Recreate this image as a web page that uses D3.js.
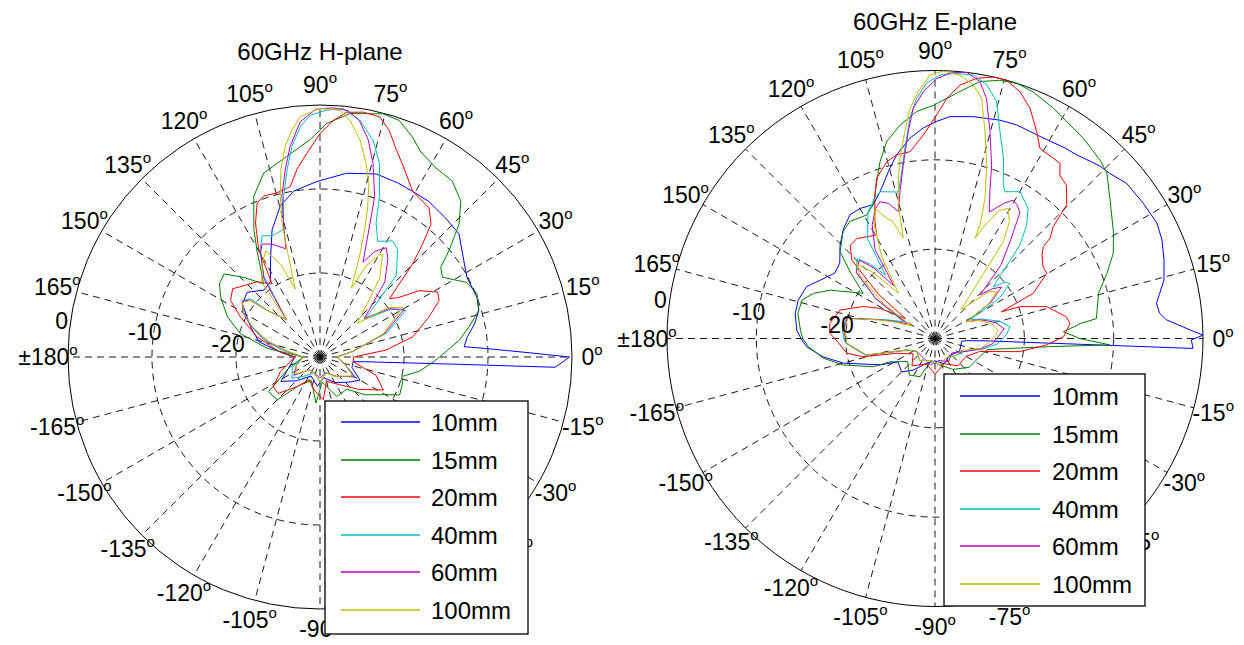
<!DOCTYPE html>
<html>
<head>
<meta charset="utf-8">
<script src="https://cdn.jsdelivr.net/npm/d3@7"></script>
<style>
  body { margin: 0; background: #fff; }
  text { font-family: "Liberation Sans", Arial, sans-serif; fill: #000; }
</style>
</head>
<body>
<svg id="chart" width="1244" height="645"></svg>
<script>
// series names and MATLAB-style line colours
var seriesNames = ["10mm", "15mm", "20mm", "40mm", "60mm", "100mm"];
var seriesColors = ["#0000ff", "#008000", "#ff0000", "#00bfbf", "#bf00bf", "#bfbf00"];

// spokes every 15 degrees, 0 on the right, 90 on top
var angleTicks = [0, 15, 30, 45, 60, 75, 90, 105, 120, 135, 150, 165, 180, 195, 210, 225, 240, 255, 270, 285, 300, 315, 330, 345];
var angleLabels = ["0", "15", "30", "45", "60", "75", "90", "105", "120", "135", "150", "165", "\u00b1180",
  "-165", "-150", "-135", "-120", "-105", "-90", "-75", "-60", "-45", "-30", "-15"];
var ringTicks = [0, -10, -20];

// normalised pattern, [angle in degrees, dB]
var hPlane10 = [[-180, -27], [-160, -26], [-148, -24.5], [-135, -26], [-115, -27.5], [-95, -26.5], [-80, -27.5], [-60, -26.5],
  [-42, -25.5], [-30, -24.5], [-18, -26], [-8, -26], [-6, -24.6], [-5, -23], [-4, -20.2], [-3, -13.3], [-2.5, -2], [-1.2, -1.1],
  [0, -0.3], [1, -4.5], [2, -7.8], [3, -10.4], [4.1, -12.8], [7.8, -12.3], [12, -11.2], [16.4, -10.3], [20.9, -10], [28.4, -10.1],
  [33.8, -9.4], [41.5, -7.9], [47.9, -7.7], [55, -7.4], [60.8, -7.4], [66, -7.3], [72.9, -7.2], [81.8, -7.9], [91, -9.1], [99, -10],
  [104.7, -11.4], [110.6, -13.8], [116, -16.6], [123.6, -19.3], [130, -19.6], [138.4, -18.4], [145.6, -18.8], [156.6, -21],
  [166, -22.5], [174, -25.5], [180, -27]];
var hPlane15 = [[-180, -28], [-160, -26], [-146, -22.6], [-135, -22.8], [-125, -26], [-110, -27], [-95, -24.5], [-85, -27],
  [-67, -24.9], [-50, -25], [-40, -23], [-30.3, -21.1], [-25.4, -19.5], [-17.5, -19.7], [-13.5, -20], [-8, -18], [-1.5, -16.2],
  [6.9, -13.3], [11.4, -11.9], [16.4, -10.3], [21.9, -9.85], [26.9, -10.4], [33.1, -12.6], [36.6, -12.1], [39.5, -10.1],
  [43.7, -7.1], [47.9, -5], [53, -3.8], [58.5, -3.6], [63.8, -2.8], [67.2, -1.6], [71.5, -0.3], [75.5, -0.1], [83, -0.8],
  [88.4, -2.2], [92.6, -4.1], [99.4, -5.8], [107, -7.1], [112.4, -9.3], [117.4, -12.9], [121, -15.5], [124, -17.4], [127.7, -19],
  [133.7, -16.9], [139.1, -14.9], [144, -15.2], [148.9, -16.2], [156.6, -18], [163.5, -20.1], [170.7, -23.6], [180, -28]];
var hPlane20 = [[-180, -27], [-160, -25], [-147.5, -23.4], [-139, -23.4], [-128, -25.5], [-115, -27], [-100, -26], [-85.6, -24.9],
  [-75, -27], [-55, -26], [-40, -24], [-27.5, -21.5], [-18, -23], [-8, -26], [0, -26], [6, -22.1], [12.3, -18.7], [20.1, -16.2],
  [25.4, -14.3], [28.9, -14], [33.8, -15.8], [37, -18.2], [40, -19.2], [45.1, -14.4], [47.7, -11.9], [50.1, -9.4], [53.8, -8],
  [60.8, -7.4], [66.7, -5.1], [69.8, -3.7], [73, -1.8], [76, -0.55], [80, -0.4], [83.8, -0.7], [86.8, -1.8], [90, -3.4],
  [93.7, -5.7], [97, -7.5], [99.9, -9.4], [104.7, -9.8], [109.3, -9.7], [112.2, -10.2], [115.7, -12.3], [119.6, -15.2],
  [123.2, -19.6], [130, -18.3], [136.8, -17.6], [142, -16.8], [147.7, -17.4], [153.3, -19.4], [162.2, -22.1], [172, -25], [180, -27]];
var hPlane40 = [[-180, -28], [-160, -26.5], [-143, -25.8], [-130, -27], [-110, -28], [-90, -27], [-70, -28], [-50, -27],
  [-29.4, -25.2], [-15, -27], [0, -28], [10, -26], [20, -21.5], [28.5, -18.4], [34, -19.8], [40, -23], [46.9, -16.7],
  [54.2, -14.2], [57.9, -13.7], [63.5, -14.6], [67.3, -12.7], [69.7, -9.6], [72.9, -5.9], [76.3, -3.4], [80.5, -1.4],
  [84.7, -0.3], [88.5, -0.6], [92.3, -1.2], [94.9, -2.5], [97.6, -4.7], [100, -7.4], [102.8, -10.4], [105.9, -14.2],
  [111.6, -14.5], [115.5, -14], [118.9, -15.3], [124.7, -18.2], [132, -24], [138.6, -21.6], [140, -19.2], [144, -18.6],
  [150, -19.4], [156, -21], [163, -23], [170, -25.5], [180, -28]];
var hPlane60 = [[-180, -28], [-160, -27], [-145, -26.2], [-130, -28], [-110, -28], [-90, -27.5], [-70, -28], [-50, -27],
  [-30, -25.3], [-15, -27], [0, -28], [10, -26], [20, -21.8], [29.5, -18.5], [35, -20], [41, -23], [49.2, -18.2], [55.3, -15.8],
  [58.8, -14.8], [62.5, -15.8], [65.6, -17.6], [69.3, -13.3], [71.2, -9.8], [74.7, -6.1], [77.5, -3.5], [80.5, -1.5],
  [83.5, -0.5], [87, -0.3], [91, -0.5], [94.8, -1.9], [98.1, -4.7], [100.5, -7.3], [103.3, -10.3], [105.2, -13.4],
  [107.5, -16.5], [113, -15.4], [117.1, -14.9], [119.7, -15.7], [125.5, -18.5], [132, -24], [138.6, -21.6], [141, -19.2],
  [144.5, -18.6], [150, -19.4], [156, -21.1], [163, -23.3], [170, -26], [180, -28]];
var hPlane100 = [[-180, -28], [-160, -27], [-145, -26.5], [-130, -28], [-110, -28], [-90, -27], [-70, -28], [-50, -27],
  [-30, -25.5], [-15, -27], [0, -28], [10, -26], [20, -22], [31, -18.5], [36, -20], [42, -24], [50.2, -20.5], [52.7, -18.3],
  [58.6, -15.7], [59.9, -15.9], [63.1, -17.8], [65.5, -21], [68.6, -17.1], [70.7, -13.9], [72.4, -11.2], [74.3, -8.5],
  [76.6, -6.3], [79.6, -3.7], [82.8, -1.6], [85.4, -0.55], [90, -0.4], [94.7, -1.3], [97.1, -2.8], [99.4, -4.6], [101.8, -7.2],
  [103.9, -10.3], [105.8, -13.4], [107.2, -17], [110, -21.4], [113, -18], [117, -15.8], [122, -17], [127.8, -18.7],
  [132, -24], [138.6, -21.6], [141, -19.3], [145, -18.7], [150, -19.5], [156, -21.2], [163, -23.5], [170, -26], [180, -28]];

var ePlane10 = [[-180, -15], [-176.3, -15.6], [-170.7, -17.3], [-164.9, -19.4], [-154.3, -23.2], [-147.7, -25.1], [-135, -24.7],
  [-124.6, -25.7], [-110, -27], [-90, -27.5], [-70, -27], [-50, -27.5], [-27.8, -26.9], [-15, -27], [-6, -27], [-4, -26.5],
  [-2.6, -24], [-2.2, -1.1], [-0.3, -1.3], [0.7, 0], [1.9, -1.4], [4.6, -4], [6.4, -4.7], [9, -4.9], [14.3, -3.55], [18.9, -2.9],
  [23.5, -2.3], [27.5, -2], [33, -2.2], [39, -2.4], [43.4, -3.1], [46.4, -3.3], [52, -4], [56, -4.2], [62, -4.5], [69.1, -4.4],
  [73.4, -4.5], [80.2, -4.8], [86.1, -5.1], [89.6, -5.7], [93.2, -6.4], [97.1, -7.4], [101.8, -9], [105.6, -10.6],
  [110.5, -12.45], [114.8, -13.5], [119.9, -13.2], [124.5, -13.2], [129.8, -14], [135.5, -15.1], [141.6, -16.4],
  [146.9, -16.6], [153, -15.6], [158, -14.5], [164.3, -14.1], [169.8, -14.1], [176.5, -14.5], [180, -15]];
var ePlane15 = [[-180, -15.2], [-176.3, -15.8], [-170, -17.3], [-163.9, -19.3], [-155.4, -22.4], [-152.7, -24.3], [-140, -26],
  [-125, -25], [-111.4, -25.4], [-100, -27.5], [-80, -27], [-60, -26], [-40, -25], [-20, -24.5], [-12, -24], [-7.5, -21.5],
  [-4, -17], [-2.1, -10.4], [0, -13.8], [3, -15.6], [6, -13.5], [7, -11.8], [15.5, -11], [20.8, -9.4], [25.5, -7.9],
  [30.5, -6.8], [38.4, -5], [43.9, -3.3], [47.2, -2.8], [53.5, -2.1], [58.7, -1.6], [62.8, -1], [68.3, -0.3], [72.2, 0],
  [75.9, -0.2], [80.1, -0.8], [84.2, -2.2], [90.4, -3.9], [94.6, -4.5], [99.3, -5.8], [103.8, -7.3], [107.3, -9.3],
  [110.4, -11.3], [114.8, -13.5], [118.9, -14.2], [126, -13.8], [130.6, -14.2], [137.6, -15.6], [142, -18], [147.8, -20.5],
  [155.2, -17.1], [159.6, -15.5], [163.9, -14.5], [169.6, -14.4], [176.4, -14.9], [180, -15.2]];
var ePlane20 = [[-180, -18.8], [-170.5, -20], [-165.8, -21.7], [-158.9, -25.4], [-145, -27], [-130, -26], [-108.5, -27],
  [-90, -26], [-70, -27], [-50, -26], [-30, -26], [-16.3, -24.8], [-8.8, -20.4], [-3.3, -17.5], [0.8, -15.6], [6.4, -14.8],
  [9.4, -15.1], [15.9, -17], [20.5, -19.8], [21.9, -22], [24.7, -17.9], [30.3, -15.5], [33.5, -15.5], [38, -14.8],
  [40.3, -14.1], [41.1, -12.9], [43.4, -11.8], [44.7, -10.1], [45.4, -9], [49.4, -7.4], [52.6, -7], [54.5, -5.9],
  [61.1, -5.7], [63.8, -4.2], [67.6, -2.1], [71, -0.8], [74.5, 0], [77.4, 0], [80.9, -0.5], [84.4, -1.5], [87.2, -3.1],
  [89.6, -5], [93.3, -7.2], [97.6, -8.9], [101.8, -9], [105.3, -9.5], [110, -10.9], [113.2, -12.9], [117.2, -15.3],
  [119.4, -16.7], [128, -15.8], [132.3, -15.9], [136.7, -17.2], [142, -22], [146, -26], [151.2, -23], [156, -21.2],
  [163.3, -18.9], [171.8, -18.1], [177.2, -18.2], [180, -18.8]];
var ePlane40 = [[-180, -19.8], [-176.9, -20], [-166.4, -22], [-157.9, -26.4], [-145, -27.5], [-125, -27], [-100, -27.5],
  [-80, -27], [-60, -27.5], [-40, -27], [-25, -26.5], [-12.3, -24.5], [-5, -23], [3, -22], [8.9, -21.5], [15, -22.5],
  [22.4, -24.3], [28, -25.5], [32, -21.5], [36.4, -19.6], [39, -20], [41.6, -21.3], [47.7, -15.9], [51, -13.7], [54.4, -12.1],
  [59.9, -11], [64.5, -11.8], [66, -11.2], [69.2, -8.4], [72.6, -5.7], [75.4, -2.6], [78.5, -1], [81.7, -0.2], [86, -0.25],
  [88.9, -0.5], [91.9, -1.4], [94.4, -3.05], [96.5, -5.2], [99, -8.45], [101.3, -11], [104, -13.1], [110.5, -12.45],
  [113.2, -12.9], [118, -14], [124, -16.5], [128, -21], [131, -19], [134.3, -17.5], [140, -18.5], [146, -22], [152, -26],
  [158, -24.5], [161.4, -23.3], [167.1, -19.8], [174.7, -19.6], [180, -19.8]];
var ePlane60 = [[-180, -20], [-176.9, -20.1], [-166.4, -22.1], [-157.9, -26.6], [-145, -27.5], [-125, -27.5], [-100, -27],
  [-80, -27.5], [-60, -27], [-40, -27.5], [-25, -26.5], [-12.3, -24.7], [-5, -23.5], [3, -22.8], [8, -22.2], [15, -23],
  [22.4, -24.5], [28, -26], [33, -22.5], [37.7, -20.6], [41, -21.5], [44, -23], [48, -19], [52.2, -16.3], [56, -13],
  [58.4, -12.45], [60.5, -12.2], [63, -13], [66.8, -14.6], [69.5, -12.45], [71.9, -9.6], [75.1, -6.05], [77.9, -2.5],
  [80.1, -0.8], [83.2, 0], [86.5, -0.2], [89.6, -0.9], [92.7, -2.35], [95.4, -4.1], [97.4, -6.7], [100.4, -10.3],
  [103.4, -13.1], [106.1, -15.2], [109, -14], [111.9, -13.5], [114.7, -14], [119, -15.5], [124, -18], [128, -22.5],
  [131, -19.5], [134, -17.8], [140, -18.5], [146, -22], [152, -26.5], [158, -24.8], [161.4, -23.4], [167.1, -19.9],
  [174.7, -19.7], [180, -20]];
var ePlane100 = [[-180, -20.1], [-176.9, -20.1], [-166.4, -22.1], [-157.9, -26.6], [-145, -27.5], [-125, -27], [-100, -27.5],
  [-80, -27], [-60, -27.5], [-40, -27], [-25, -26.8], [-12.3, -24.8], [-5, -24], [3, -23.2], [7.6, -22.9], [15, -23.5],
  [22.4, -24.7], [28, -26], [33, -22.8], [37.2, -21.3], [41, -22], [48, -25.6], [54.8, -16.7], [57.5, -14.5], [60.6, -13.3],
  [63.2, -13.9], [66, -16], [68.2, -17.9], [68.4, -16.3], [70.4, -13.3], [73.4, -9.75], [76.4, -6.2], [79, -2.6],
  [81.4, -1.3], [84.6, -0.4], [88.2, -0.05], [91.1, -0.5], [93.9, -2.3], [96.2, -4.1], [98.3, -6.6], [101, -9.45],
  [103.2, -12], [105.4, -14.5], [107.5, -18.2], [110, -16], [111.9, -15.5], [114.7, -14], [118, -15.5], [123, -19],
  [129, -23.5], [133, -20], [136.2, -17.8], [140, -19], [146, -23], [152, -27], [158, -25], [161.4, -23.5], [167.1, -20],
  [174.7, -19.8], [180, -20.1]];

var PolarPlot = function (userConfig) {
  var defaultConfig = {
    cx: 0,
    cy: 0,
    radius: 100,
    minDb: -30,
    title: "",
    titleY: 20,
    series: [],
    legend: null,
  };

  var config = Object.assign({}, defaultConfig, userConfig);

  function my(selection) {
    selection.each(function () {
      var g = d3.select(this).append("g").attr("class", "polar");
      var rScale = d3.scaleLinear().domain([config.minDb, 0]).range([0, config.radius]).clamp(true);
      var aScale = d3.scaleLinear().domain([0, 180]).range([0, Math.PI]);

      function px(deg, r) {
        return config.cx + r * Math.cos(aScale(deg));
      }
      function py(deg, r) {
        return config.cy - r * Math.sin(aScale(deg));
      }

      // dashed spokes and rings
      g.selectAll(".spoke")
        .data(angleTicks)
        .enter()
        .append("line")
        .attr("class", "spoke")
        .attr("x1", config.cx)
        .attr("y1", config.cy)
        .attr("x2", function (d) { return px(d, config.radius); })
        .attr("y2", function (d) { return py(d, config.radius); })
        .attr("stroke", "#000")
        .attr("stroke-width", 0.9)
        .attr("stroke-dasharray", "7,5");

      g.selectAll(".ring")
        .data(ringTicks.slice(1))
        .enter()
        .append("circle")
        .attr("class", "ring")
        .attr("cx", config.cx)
        .attr("cy", config.cy)
        .attr("r", function (d) { return rScale(d); })
        .attr("fill", "none")
        .attr("stroke", "#000")
        .attr("stroke-width", 0.9)
        .attr("stroke-dasharray", "7,5");

      g.append("circle")
        .attr("cx", config.cx)
        .attr("cy", config.cy)
        .attr("r", config.radius)
        .attr("fill", "none")
        .attr("stroke", "#000")
        .attr("stroke-width", 1);

      // the patterns
      var line = d3
        .line()
        .x(function (d) { return px(d[0], rScale(d[1])); })
        .y(function (d) { return py(d[0], rScale(d[1])); });

      g.selectAll(".trace")
        .data(config.series)
        .enter()
        .append("path")
        .attr("class", "trace")
        .attr("d", function (d) { return line(d.values); })
        .attr("fill", "none")
        .attr("stroke", function (d) { return d.color; })
        .attr("stroke-width", 1);

      // angle labels with a raised "o" for degrees
      var labels = g
        .selectAll(".angle-label")
        .data(angleTicks)
        .enter()
        .append("text")
        .attr("class", "angle-label")
        .attr("x", function (d) { return px(d, config.radius + 20); })
        .attr("y", function (d) { return py(d, config.radius + 20); })
        .attr("text-anchor", "middle")
        .attr("dominant-baseline", "central")
        .attr("font-size", 23);
      labels.append("tspan").text(function (d, i) { return angleLabels[i]; });
      labels.append("tspan").attr("font-size", 15).attr("dy", -8).text("o");

      // ring labels, just above the 180 spoke
      g.selectAll(".ring-label")
        .data(ringTicks)
        .enter()
        .append("text")
        .attr("class", "ring-label")
        .attr("x", function (d) { return px(172, rScale(d) + 0.035 * config.radius); })
        .attr("y", function (d) { return py(172, rScale(d) + 0.035 * config.radius); })
        .attr("text-anchor", "middle")
        .attr("dominant-baseline", "central")
        .attr("font-size", 23)
        .text(function (d) { return d; });

      g.append("text")
        .attr("x", config.cx)
        .attr("y", config.titleY)
        .attr("text-anchor", "middle")
        .attr("dominant-baseline", "central")
        .attr("font-size", 24)
        .text(config.title);

      // legend sits on top of everything
      var lg = config.legend;
      if (lg) {
        var box = g.append("g").attr("class", "legend");
        box.append("rect")
          .attr("x", lg.x)
          .attr("y", lg.y)
          .attr("width", lg.width)
          .attr("height", lg.height)
          .attr("fill", "#fff")
          .attr("stroke", "#000")
          .attr("stroke-width", 1.3);

        var rows = box
          .selectAll(".legend-row")
          .data(config.series)
          .enter()
          .append("g")
          .attr("class", "legend-row")
          .attr("transform", function (d, i) {
            return "translate(0," + Math.round(lg.rowY + i * lg.rowStep) + ")";
          });
        rows.append("line")
          .attr("x1", lg.lineX1)
          .attr("x2", lg.lineX2)
          .attr("y1", 0)
          .attr("y2", 0)
          .attr("stroke", function (d) { return d.color; })
          .attr("stroke-width", 1.3);
        rows.append("text")
          .attr("x", lg.textX)
          .attr("y", 0)
          .attr("dominant-baseline", "central")
          .attr("font-size", 24)
          .text(function (d) { return d.name; });
      }
    });
  }

  return my;
};

function toSeries(list) {
  return list.map(function (values, i) {
    return { name: seriesNames[i], color: seriesColors[i], values: values };
  });
}

var svg = d3.select("#chart");
svg.append("rect").attr("width", 1244).attr("height", 645).attr("fill", "#fff");

var hPlot = PolarPlot({
  cx: 320,
  cy: 357,
  radius: 252,
  title: "60GHz H-plane",
  titleY: 51,
  series: toSeries([hPlane10, hPlane15, hPlane20, hPlane40, hPlane60, hPlane100]),
  legend: { x: 325, y: 401, width: 203, height: 233, rowY: 422, rowStep: 37.6, lineX1: 341, lineX2: 420, textX: 431 },
});

var ePlot = PolarPlot({
  cx: 935,
  cy: 338.5,
  radius: 268,
  title: "60GHz E-plane",
  titleY: 21,
  series: toSeries([ePlane10, ePlane15, ePlane20, ePlane40, ePlane60, ePlane100]),
  legend: { x: 944, y: 374, width: 201, height: 232, rowY: 396, rowStep: 37.6, lineX1: 960, lineX2: 1040, textX: 1052 },
});

svg.append("g").call(hPlot);
svg.append("g").call(ePlot);
</script>
</body>
</html>
